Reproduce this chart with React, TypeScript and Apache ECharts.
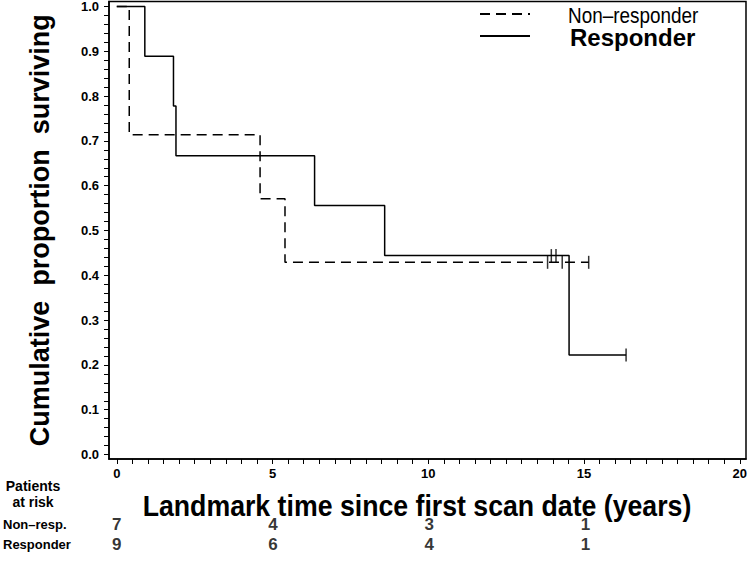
import React, { useEffect, useRef } from "react";
import * as echarts from "echarts";

// ---- data ----
const xTickLabels = [0, 5, 10, 15, 20];
const yTickLabels = [0, 0.1, 0.2, 0.3, 0.4, 0.5, 0.6, 0.7, 0.8, 0.9, 1.0];

// Kaplan-Meier steps: [time, survival]
const nonResponderSteps: [number, number][] = [
  [0, 1.0],
  [0.4, 0.714],
  [4.6, 0.571],
  [5.4, 0.429],
  [15.15, 0.429],
];
const responderSteps: [number, number][] = [
  [0, 1.0],
  [0.9, 0.889],
  [1.82, 0.778],
  [1.9, 0.667],
  [6.35, 0.556],
  [8.6, 0.444],
  [14.52, 0.222],
  [16.35, 0.222],
];
// censored observations
const nonResponderCensored: [number, number][] = [
  [13.83, 0.429],
  [14.3, 0.429],
  [15.15, 0.429],
];
const responderCensored: [number, number][] = [
  [13.95, 0.444],
  [14.1, 0.444],
  [16.35, 0.222],
];

// patients at risk
const riskTimes = [0, 5, 10, 15];
const riskNonResp = [7, 4, 3, 1];
const riskResp = [9, 6, 4, 1];
const riskRows = ["Responder", "Non\u2013resp."];

const SANS = "'Liberation Sans', Arial, Helvetica, sans-serif";

function range(start: number, end: number, step: number, dec: number) {
  const out: number[] = [];
  const n = Math.round((end - start) / step);
  for (let i = 0; i <= n; i++) out.push(+(start + i * step).toFixed(dec));
  return out;
}

export default function App() {
  const ref = useRef<HTMLDivElement>(null);

  useEffect(() => {
    if (!ref.current) return;
    const chart = echarts.init(ref.current, null, { renderer: "svg" });

    const xMinor = range(xTickLabels[0], xTickLabels[xTickLabels.length - 1], 0.5, 2);
    const yMinor = range(yTickLabels[0], yTickLabels[yTickLabels.length - 1], 0.02, 2);

    const riskData: any[] = [];
    riskTimes.forEach((t, i) => {
      riskData.push({ value: [t, riskRows[1], riskNonResp[i]] });
      riskData.push({ value: [t, riskRows[0], riskResp[i]] });
    });

    const option: any = {
      animation: false,
      backgroundColor: "#ffffff",
      grid: [
        {
          left: 109,
          top: 1,
          right: 2,
          bottom: 111,
          show: true,
          borderColor: "#000",
          borderWidth: 1.5,
          backgroundColor: "transparent",
        },
        { left: 109, right: 2, top: 514, height: 40 },
      ],
      xAxis: [
        {
          type: "value",
          gridIndex: 0,
          min: -0.25,
          max: 20.2,
          splitLine: { show: false },
          axisLine: { show: true, onZero: false, lineStyle: { color: "#000", width: 1.5 } },
          axisTick: {
            show: true,
            customValues: xMinor,
            length: 5,
            lineStyle: { color: "#000", width: 1 },
          },
          axisLabel: {
            customValues: xTickLabels,
            color: "#000",
            fontFamily: SANS,
            fontWeight: "bold",
            fontSize: 13,
            margin: 8,
          },
        },
        {
          type: "value",
          gridIndex: 1,
          min: -0.25,
          max: 20.2,
          show: false,
        },
      ],
      yAxis: [
        {
          type: "value",
          gridIndex: 0,
          min: -0.01,
          max: 1.011,
          splitLine: { show: false },
          axisLine: { show: true, onZero: false, lineStyle: { color: "#000", width: 1.5 } },
          axisTick: {
            show: true,
            customValues: yMinor,
            length: 5,
            lineStyle: { color: "#000", width: 1 },
          },
          axisLabel: {
            customValues: yTickLabels,
            formatter: (v: number) => v.toFixed(1),
            color: "#000",
            fontFamily: SANS,
            fontWeight: "bold",
            fontSize: 13,
            margin: 10,
          },
          name: "Cumulative  proportion  surviving",
          nameLocation: "middle",
          nameGap: 56,
          nameTextStyle: {
            color: "#000",
            fontFamily: SANS,
            fontWeight: "bold",
            fontSize: 27,
          },
        },
        {
          type: "category",
          gridIndex: 1,
          data: riskRows,
          axisLine: { show: false },
          axisTick: { show: false },
          splitLine: { show: false },
          axisLabel: {
            show: true,
            interval: 0,
            align: "left",
            margin: 106,
            color: "#000",
            fontFamily: SANS,
            fontWeight: "bold",
            fontSize: 13,
          },
        },
      ],
      series: [
        {
          name: "Non\u2013responder",
          type: "line",
          xAxisIndex: 0,
          yAxisIndex: 0,
          step: "end",
          data: nonResponderSteps,
          showSymbol: false,
          symbol: "none",
          lineStyle: { color: "#000", width: 1.5, type: [10, 6] },
        },
        {
          name: "Responder",
          type: "line",
          xAxisIndex: 0,
          yAxisIndex: 0,
          step: "end",
          data: responderSteps,
          showSymbol: false,
          symbol: "none",
          lineStyle: { color: "#000", width: 1.5, type: "solid" },
        },
        {
          type: "scatter",
          xAxisIndex: 0,
          yAxisIndex: 0,
          data: nonResponderCensored,
          symbol: "rect",
          symbolSize: [1.5, 13],
          itemStyle: { color: "#000" },
        },
        {
          type: "scatter",
          xAxisIndex: 0,
          yAxisIndex: 0,
          data: responderCensored,
          symbol: "rect",
          symbolSize: [1.5, 13],
          itemStyle: { color: "#000" },
        },
        {
          type: "scatter",
          xAxisIndex: 1,
          yAxisIndex: 1,
          data: riskData,
          symbolSize: 0,
          label: {
            show: true,
            position: "inside",
            formatter: (p: any) => String(p.value[2]),
            color: "#000",
            fontFamily: SANS,
            fontWeight: "bold",
            fontSize: 17,
          },
        },
      ],
      graphic: [
        {
          type: "text",
          x: 417,
          y: 505,
          scaleX: 0.89,
          style: {
            text: "Landmark time since first scan date (years)",
            fill: "#000",
            font: `bold 30px ${SANS}`,
            align: "center",
            verticalAlign: "middle",
          },
        },
        {
          type: "line",
          shape: { x1: 480, y1: 14, x2: 530, y2: 14 },
          style: { stroke: "#000", lineWidth: 2, lineDash: [10, 6] },
        },
        {
          type: "text",
          x: 568,
          y: 15,
          scaleX: 0.86,
          style: {
            text: "Non\u2013responder",
            fill: "#000",
            font: `normal 22px ${SANS}`,
            verticalAlign: "middle",
          },
        },
        {
          type: "line",
          shape: { x1: 480, y1: 36, x2: 530, y2: 36 },
          style: { stroke: "#000", lineWidth: 2 },
        },
        {
          type: "text",
          x: 570,
          y: 37,
          style: {
            text: "Responder",
            fill: "#000",
            font: `bold 24px ${SANS}`,
            verticalAlign: "middle",
          },
        },
        {
          type: "text",
          x: 33,
          y: 486,
          style: {
            text: "Patients",
            fill: "#000",
            font: `bold 14px ${SANS}`,
            align: "center",
            verticalAlign: "middle",
          },
        },
        {
          type: "text",
          x: 33,
          y: 502,
          style: {
            text: "at risk",
            fill: "#000",
            font: `bold 14px ${SANS}`,
            align: "center",
            verticalAlign: "middle",
          },
        },
      ],
    };

    chart.setOption(option);
    return () => chart.dispose();
  }, []);

  return <div ref={ref} style={{ width: 750, height: 570, position: "absolute", left: 0, top: 0 }} />;
}
